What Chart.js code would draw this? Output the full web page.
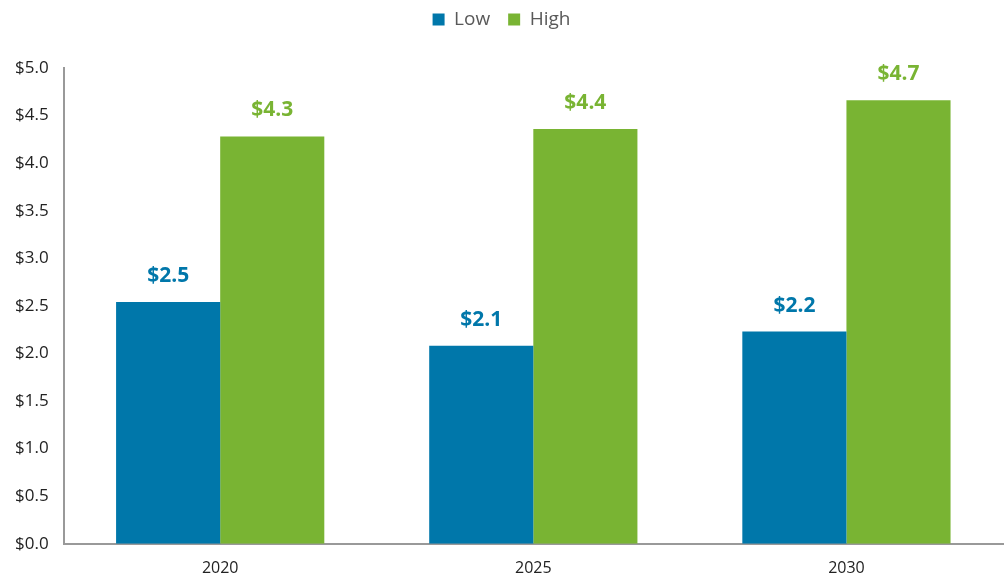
<!DOCTYPE html>
<html>
<head>
<meta charset="utf-8">
<script src="https://cdn.jsdelivr.net/npm/chart.js@4.4.0/dist/chart.umd.min.js"></script>
<style>
  html, body { margin: 0; padding: 0; background: #fff; }
  #wrap { width: 1005px; height: 580px; }
</style>
</head>
<body>
<div id="wrap"><canvas id="barChart"></canvas></div>
<script>
var years = ["2020", "2025", "2030"];
var lowValues = [2.54, 2.08, 2.23];
var highValues = [4.28, 4.36, 4.66];
var yTicks = [0, 0.5, 1, 1.5, 2, 2.5, 3, 3.5, 4, 4.5, 5];

var BLUE = '#0077aa';
var GREEN = '#79b433';

// dollar labels above each bar
var barLabels = {
    id: 'barLabels',
    afterDatasetsDraw: function (chart) {
        var ctx = chart.ctx;
        ctx.save();
        ctx.font = 'bold 21px "Open Sans", sans-serif';
        ctx.textAlign = 'center';
        ctx.textBaseline = 'middle';
        chart.data.datasets.forEach(function (ds, i) {
            var meta = chart.getDatasetMeta(i);
            meta.data.forEach(function (bar, j) {
                ctx.fillStyle = ds.backgroundColor;
                ctx.fillText('$' + ds.data[j].toFixed(1), bar.x, bar.y - 26);
            });
        });
        ctx.restore();
    }
};

// extra room under the legend
var legendSpace = {
    id: 'legendSpace',
    beforeInit: function (chart) {
        var origFit = chart.legend.fit;
        chart.legend.fit = function () {
            origFit.bind(chart.legend)();
            this.height += 29;
        };
    }
};

var ctxBar = document.getElementById('barChart');
var myBarChart = new Chart(ctxBar, {
    type: 'bar',
    data: {
        labels: years,
        datasets: [
            { label: 'Low', data: lowValues, backgroundColor: BLUE },
            { label: 'High', data: highValues, backgroundColor: GREEN }
        ]
    },
    options: {
        responsive: true,
        maintainAspectRatio: false,
        animation: false,
        layout: { padding: { top: -8, right: 2, left: 0, bottom: -14 } },
        datasets: {
            bar: { categoryPercentage: 0.665, barPercentage: 1 }
        },
        plugins: {
            legend: {
                position: 'top',
                labels: {
                    boxWidth: 12,
                    boxHeight: 12,
                    padding: 18,
                    color: '#595959',
                    font: { size: 19, family: '"Open Sans", sans-serif' }
                }
            },
            tooltip: { enabled: false }
        },
        scales: {
            x: {
                grid: { display: false, drawTicks: false },
                border: { color: '#999', width: 2 },
                ticks: {
                    color: '#222',
                    padding: 15.5,
                    font: { size: 16, family: '"Open Sans", sans-serif' }
                }
            },
            y: {
                min: 0,
                max: 5,
                afterBuildTicks: function (axis) {
                    axis.ticks = yTicks.map(function (v) { return { value: v }; });
                },
                grid: { display: false, drawTicks: false },
                border: { color: '#999', width: 2 },
                ticks: {
                    color: '#222',
                    padding: 15,
                    font: { size: 17, family: '"Open Sans", sans-serif' },
                    callback: function (v) { return '$' + Number(v).toFixed(1); }
                }
            }
        }
    },
    plugins: [barLabels, legendSpace]
});
</script>
</body>
</html>
